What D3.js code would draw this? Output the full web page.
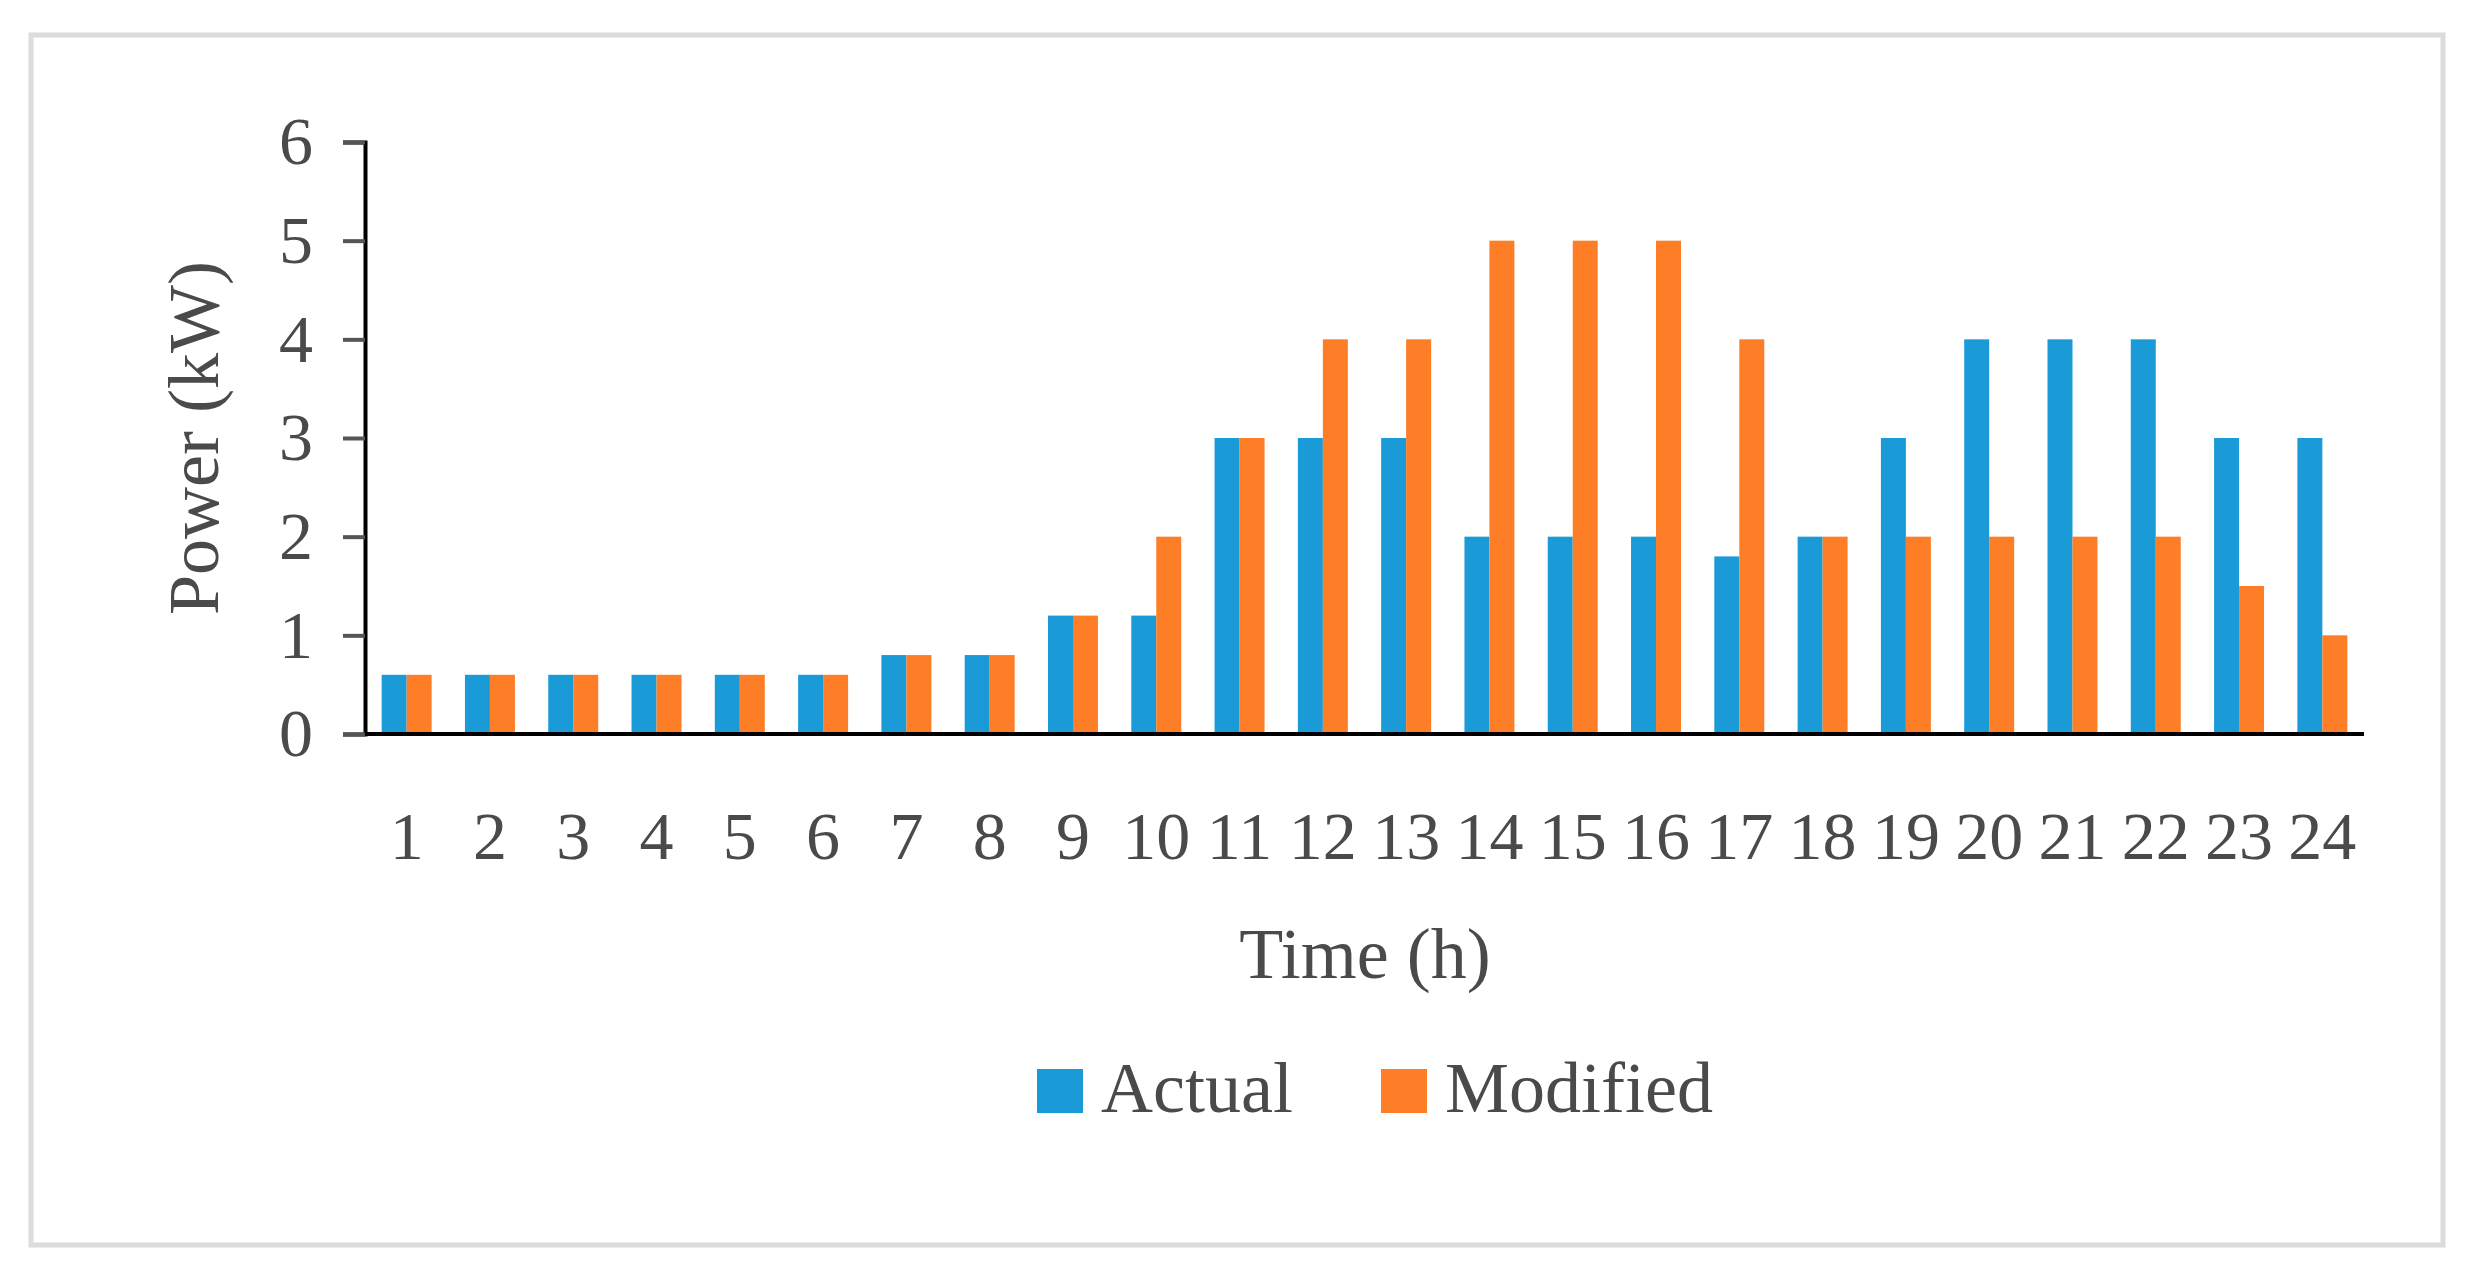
<!DOCTYPE html>
<html><head><meta charset="utf-8">
<script src="https://cdn.jsdelivr.net/npm/d3@7"></script>
<style>body{margin:0;background:#fff}</style></head>
<body><svg id="c" width="2471" height="1285"></svg>
<script>
const hours = d3.range(1,25).map(String);
const actual =   [0.6,0.6,0.6,0.6,0.6,0.6,0.8,0.8,1.2,1.2,3,3,3,2,2,2,1.8,2,3,4,4,4,3,3];
const modified = [0.6,0.6,0.6,0.6,0.6,0.6,0.8,0.8,1.2,2,3,4,4,5,5,5,4,2,2,2,2,2,1.5,1];
const seriesNames = ["Actual","Modified"];
const colors = ["#1a9bd7","#fd7e26"];
const yTicks = [0,1,2,3,4,5,6];

const svg = d3.select("#c");
const font = "'Liberation Serif','DejaVu Serif',serif";
svg.append("rect").attr("x",31).attr("y",35).attr("width",2412).attr("height",1210)
  .attr("fill","#fff").attr("stroke","#dcdcdc").attr("stroke-width",5);

const L=365,R=2364,T=142,B=734;
const x = d3.scaleBand().domain(hours).range([L,R]).paddingInner(0.4).paddingOuter(0.2);
const x1 = d3.scaleBand().domain(seriesNames).range([0,x.bandwidth()]);
const y = d3.scaleLinear().domain([0,6]).range([B,T]);

const data = [actual, modified];
seriesNames.forEach((s,si)=>{
  svg.append("g").selectAll("rect").data(data[si]).join("rect")
    .attr("x",(d,i)=>x(hours[i])+x1(s)).attr("width",x1.bandwidth())
    .attr("y",d=>y(d)).attr("height",d=>B-y(d)).attr("fill",colors[si]);
});

const ya = svg.append("g").attr("transform",`translate(${L},0)`)
  .call(d3.axisLeft(y).tickValues(yTicks).tickFormat(d3.format("d")).tickSize(22).tickPadding(30));
ya.select(".domain").attr("stroke","#000").attr("stroke-width",4);
ya.selectAll(".tick line").attr("stroke","#555").attr("stroke-width",4);
ya.selectAll("text").attr("font-family",font).attr("font-size",68).attr("fill","#4a4a4a");

const xa = svg.append("g").attr("transform",`translate(0,${B})`)
  .call(d3.axisBottom(x).tickSize(0).tickPadding(74));
xa.select(".domain").attr("stroke","#000").attr("stroke-width",4).attr("d",`M${L},0H${R}`);
xa.selectAll("text").attr("font-family",font).attr("font-size",68).attr("fill","#4a4a4a").attr("dy","0.75em");

svg.append("text").attr("x",1365).attr("y",978).attr("text-anchor","middle")
  .attr("font-family",font).attr("font-size",72).attr("fill","#4a4a4a").text("Time (h)");
svg.append("text").attr("transform","translate(218,438) rotate(-90)").attr("text-anchor","middle")
  .attr("font-family",font).attr("font-size",72).attr("fill","#4a4a4a").text("Power (kW)");

const lx=[1037,1381];
seriesNames.forEach((s,i)=>{
  svg.append("rect").attr("x",lx[i]).attr("y",1069).attr("width",46).attr("height",44).attr("fill",colors[i]);
  svg.append("text").attr("x",lx[i]+64).attr("y",1112).attr("font-family",font).attr("font-size",72)
    .attr("fill","#4a4a4a").text(s);
});
</script></body></html>
